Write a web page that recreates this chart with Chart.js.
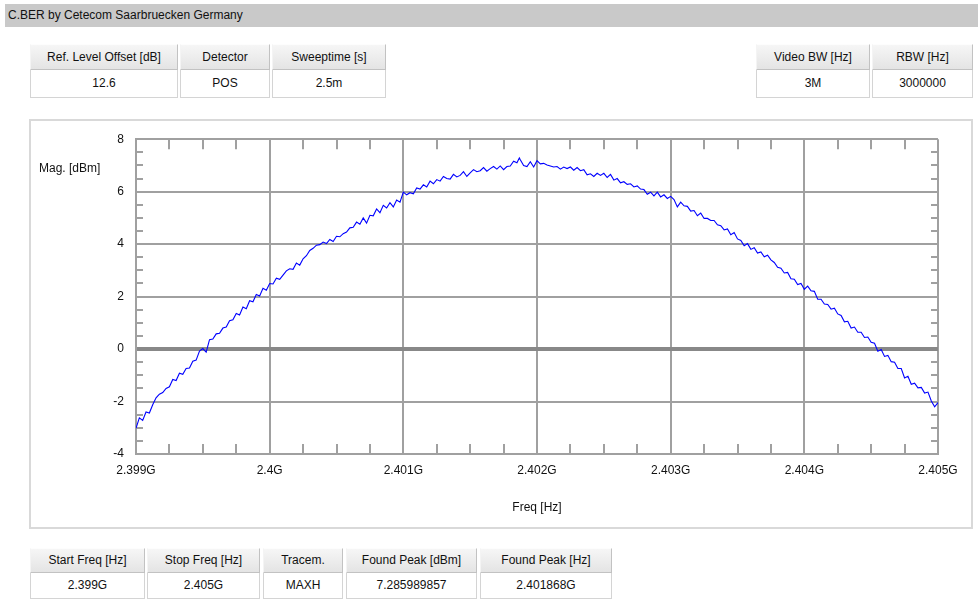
<!DOCTYPE html>
<html>
<head>
<meta charset="utf-8">
<title>C.BER spectrum</title>
<script src="https://cdn.jsdelivr.net/npm/chart.js@4/dist/chart.umd.min.js"></script>
<style>
  html, body { margin: 0; padding: 0; }
  body {
    width: 978px; height: 599px; overflow: hidden; position: relative;
    background: #fff; color: #111;
    font-family: "Liberation Sans", Arial, sans-serif; font-size: 12px;
  }
  .bar { position: absolute; left: 5px; top: 4px; width: 973px; height: 23px; background: #c9c9c9; }
  .bar span { position: absolute; left: 3px; top: 4px; }
  .cell { position: absolute; box-sizing: border-box; text-align: center; white-space: nowrap; }
  .hd {
    background: linear-gradient(#f6f6f6, #e4e4e4);
    border: 1px solid #c2c2c2; border-top-color: #fdfdfd; border-left-color: #f4f4f4;
  }
  .val { background: #fff; border: 1px solid #d4d4d4; border-top: none; }
  .panel {
    position: absolute; left: 29px; top: 119px; width: 944px; height: 410px;
    box-sizing: border-box; border: 2px solid #d9d9d9; background: #fff;
  }
  #chart { position: absolute; left: 30px; top: 120px; }
  .ytitle { position: absolute; left: 39px; top: 161px; line-height: 14px; }
</style>
</head>
<body>
<div class="bar"><span>C.BER by Cetecom Saarbruecken Germany</span></div>

<div class="panel"></div>
<canvas id="chart" width="943" height="409"></canvas>
<div class="ytitle">Mag. [dBm]</div>

<div id="tables"></div>

<script>
// Sweep settings
const startHz = 2.399e9;
const stopHz = 2.405e9;

// Marker result
const peakDbm = 7.285989857;
const peakHz = 2.401868e9;

// Axis ticks
const xTickValues = [2.399e9, 2.400e9, 2.401e9, 2.402e9, 2.403e9, 2.404e9, 2.405e9];
const xTickLabels = ['2.399G', '2.4G', '2.401G', '2.402G', '2.403G', '2.404G', '2.405G'];
const yTickValues = [-4, -2, 0, 2, 4, 6, 8];
const yTickLabels = ['-4', '-2', '0', '2', '4', '6', '8'];

// MAXH trace, 241 sweep points (25 kHz apart), in dBm
const magDbm = [
  -3.02, -2.62, -2.72, -2.40, -2.44, -2.12, -1.86, -1.72, -1.66, -1.50,
  -1.44, -1.16, -1.20, -0.92, -0.96, -0.74, -0.72, -0.46, -0.42, -0.08,
   0.02, -0.12,  0.36,  0.38,  0.58,  0.60,  0.80,  0.84,  1.08,  1.12,
   1.36,  1.30,  1.60,  1.54,  1.84,  1.80,  2.08,  2.02,  2.32,  2.24,
   2.50,  2.48,  2.70,  2.66,  2.82,  2.98,  3.06,  3.04,  3.28,  3.20,
   3.44,  3.56,  3.76,  3.84,  3.96,  3.98,  4.08,  4.02,  4.18,  4.10,
   4.30,  4.28,  4.40,  4.46,  4.62,  4.64,  4.84,  4.76,  5.00,  4.80,
   5.10,  5.08,  5.34,  5.20,  5.48,  5.38,  5.58,  5.42,  5.68,  5.60,
   5.98,  5.88,  5.96,  5.92,  6.14,  6.10,  6.26,  6.18,  6.40,  6.30,
   6.46,  6.40,  6.58,  6.50,  6.48,  6.66,  6.56,  6.62,  6.76,  6.58,
   6.72,  6.84,  6.76,  6.80,  6.92,  6.78,  6.88,  6.96,  6.86,  6.98,
   6.84,  6.96,  6.98,  7.16,  7.10,  7.22,  7.00,  6.96,  7.14,  6.94,
   7.18,  7.06,  7.08,  7.02,  6.98,  6.94,  6.96,  6.86,  6.94,  6.88,
   6.94,  6.82,  6.92,  6.80,  6.84,  6.64,  6.68,  6.58,  6.70,  6.62,
   6.70,  6.54,  6.66,  6.44,  6.50,  6.34,  6.38,  6.28,  6.30,  6.18,
   6.22,  6.10,  6.08,  5.90,  5.98,  5.84,  5.98,  5.80,  5.88,  5.74,
   5.82,  5.70,  5.42,  5.60,  5.46,  5.44,  5.26,  5.28,  5.08,  5.18,
   4.98,  4.98,  4.90,  4.90,  4.74,  4.70,  4.54,  4.58,  4.36,  4.44,
   4.20,  4.14,  3.94,  4.02,  3.80,  3.86,  3.66,  3.70,  3.52,  3.58,
   3.40,  3.30,  3.12,  3.08,  2.90,  2.92,  2.68,  2.66,  2.46,  2.50,
   2.28,  2.40,  2.22,  2.20,  1.90,  1.90,  1.72,  1.70,  1.52,  1.56,
   1.34,  1.28,  1.04,  1.06,  0.80,  0.84,  0.64,  0.64,  0.44,  0.46,
   0.26,  0.22, -0.08, -0.02, -0.28, -0.24, -0.48, -0.50, -0.74, -0.74,
  -1.10, -1.04, -1.34, -1.30, -1.48, -1.46, -1.68, -1.64, -1.98, -2.20,
  -2.04
];

// Settings tables
const settingsHeaders = ['Ref. Level Offset [dB]', 'Detector', 'Sweeptime [s]'];
const settingsValues = ['12.6', 'POS', '2.5m'];
const bandwidthHeaders = ['Video BW [Hz]', 'RBW [Hz]'];
const bandwidthValues = ['3M', '3000000'];
const resultHeaders = ['Start Freq [Hz]', 'Stop Freq [Hz]', 'Tracem.', 'Found Peak [dBm]', 'Found Peak [Hz]'];
const resultValues = ['2.399G', '2.405G', 'MAXH', String(peakDbm), '2.401868G'];

// ---- tables ----
function buildTable(headers, values, colEdges, top, hdH, valH) {
  const host = document.getElementById('tables');
  headers.forEach((h, i) => {
    const [l, r] = colEdges[i];
    const hd = document.createElement('div');
    hd.className = 'cell hd';
    Object.assign(hd.style, { left: l + 'px', top: top + 'px', width: (r - l) + 'px', height: hdH + 'px', lineHeight: (hdH - 2) + 'px' });
    hd.textContent = h;
    host.appendChild(hd);
    const v = document.createElement('div');
    v.className = 'cell val';
    Object.assign(v.style, { left: l + 'px', top: (top + hdH) + 'px', width: (r - l) + 'px', height: valH + 'px', lineHeight: (valH - 1) + 'px' });
    v.textContent = values[i];
    host.appendChild(v);
  });
}
buildTable(settingsHeaders, settingsValues, [[30, 178], [180, 270], [272, 386]], 44, 26, 28);
buildTable(bandwidthHeaders, bandwidthValues, [[756, 870], [872, 973]], 44, 26, 28);
buildTable(resultHeaders, resultValues, [[30, 145], [147, 260], [263, 343], [346, 477], [480, 612]], 548, 25, 26);

// ---- trace points ----
const step = (stopHz - startHz) / (magDbm.length - 1);
const trace = magDbm.map((m, i) => ({ x: startHz + i * step, y: m }));
trace.push({ x: peakHz, y: peakDbm });
trace.sort((a, b) => a.x - b.x);

// inward minor ticks on all four sides of the plot frame
const minorTicks = {
  id: 'minorTicks',
  beforeDatasetsDraw(chart) {
    const { ctx, chartArea: a, scales } = chart;
    const xs = scales.x, ys = scales.y;
    ctx.save();
    ctx.strokeStyle = '#a0a0a0';
    ctx.lineWidth = 2;
    ctx.beginPath();
    for (let i = 1; i < 24; i++) {
      if (i % 4 === 0) continue;
      const px = Math.round(xs.getPixelForValue(startHz + i * 250000));
      ctx.moveTo(px, a.top); ctx.lineTo(px, a.top + 10);
      ctx.moveTo(px, a.bottom); ctx.lineTo(px, a.bottom - 10);
    }
    for (let j = 1; j < 24; j++) {
      if (j % 4 === 0) continue;
      const py = Math.round(ys.getPixelForValue(-4 + j * 0.5));
      ctx.moveTo(a.left, py); ctx.lineTo(a.left + 7, py);
      ctx.moveTo(a.right, py); ctx.lineTo(a.right - 7, py);
    }
    ctx.stroke();
    ctx.restore();
  }
};

const font = { family: '"Liberation Sans", Arial, sans-serif', size: 12 };

new Chart(document.getElementById('chart'), {
  type: 'line',
  data: {
    datasets: [{
      data: trace,
      borderColor: '#0000ff',
      borderWidth: 1.1,
      pointRadius: 0,
      tension: 0,
      fill: false
    }]
  },
  options: {
    responsive: false,
    animation: false,
    devicePixelRatio: 1,
    layout: { padding: { top: 14, right: 35, left: 0, bottom: 0 } },
    plugins: { legend: { display: false }, tooltip: { enabled: false } },
    scales: {
      x: {
        type: 'linear',
        min: startHz,
        max: stopHz,
        afterBuildTicks: s => { s.ticks = xTickValues.map(v => ({ value: v })); },
        afterFit: s => { s.height = 75; },
        ticks: {
          callback: (v, i) => xTickLabels[i],
          font, color: '#111', padding: 9, maxRotation: 0, autoSkip: false
        },
        grid: { color: '#a0a0a0', lineWidth: 2, drawTicks: false },
        border: { display: true, color: '#a0a0a0', width: 2 },
        title: { display: true, text: 'Freq [Hz]', font, color: '#111', padding: { top: 0, bottom: 14 } }
      },
      y: {
        min: -4,
        max: 8,
        afterBuildTicks: s => { s.ticks = yTickValues.map(v => ({ value: v })); },
        afterFit: s => { s.width = 106; },
        ticks: {
          callback: (v, i) => yTickLabels[i],
          font, color: '#111', padding: 12, autoSkip: false
        },
        grid: {
          color: c => (c.tick && c.tick.value === 0 ? '#888888' : '#a0a0a0'),
          lineWidth: c => (c.tick && c.tick.value === 0 ? 4 : 2),
          drawTicks: false
        },
        border: { display: true, color: '#a0a0a0', width: 2 }
      }
    }
  },
  plugins: [minorTicks]
});
</script>
</body>
</html>
